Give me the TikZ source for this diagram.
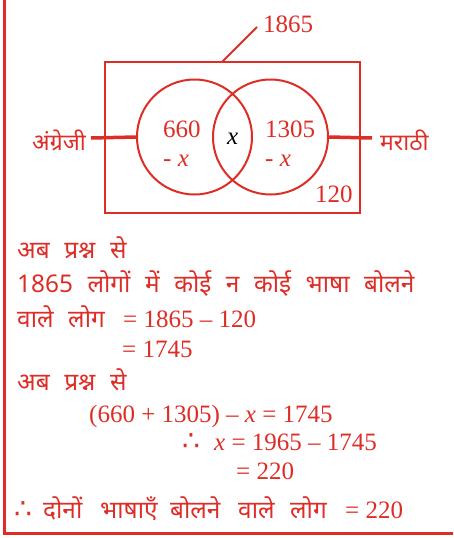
\documentclass[tikz,border=0pt]{standalone}
\usepackage{fontspec}
\setmainfont{Liberation Serif}
\newfontfamily\dev[Script=Devanagari, WordSpace=2.3]{Noto Sans}
\newfontfamily\sym{DejaVu Sans}
\definecolor{rd}{RGB}{222,44,38}
\begin{document}
\begin{tikzpicture}[x=1pt,y=-1pt,
  every node/.style={inner sep=0pt, text=rd},
  num/.style={font=\fontsize{25}{28}\selectfont, anchor=base west},
  devtxt/.style={font=\dev\fontsize{24.4}{28}\selectfont, anchor=base west},
  therefore/.style={font=\sym\fontsize{28}{30}\selectfont, anchor=base west},
  venn/.style={circle, draw=rd, line width=2pt, minimum size=115pt},
  conn/.style={draw=rd, line width=3.5pt},
  frame/.style={draw=rd, line width=3pt}]
\useasboundingbox (0,0) rectangle (453,538);
% frame
\coordinate (ft) at (4,0);
\coordinate (fb) at (4,533);
\coordinate (fr) at (453,533);
\draw[frame] (ft) -- (fb) -- (fr);
% box
\node[draw=rd, line width=2.3pt, minimum width=255pt, minimum height=151pt] (box) at (232.5,137.5) {};
\node[venn] (L) at (194.5,137) {};
\node[venn] (R) at (270.5,137) {};
% total label
\node[num] (tot) at (263,32) {1865};
\coordinate (tl) at (222,62);
\coordinate (tr) at (257,27);
\draw[draw=rd, line width=2pt] (tl) -- (tr);
% side labels
\node[font=\dev\fontsize{23}{26}\selectfont, anchor=base east] (eng) at (86,150) {अंग्रेजी};
\node[font=\dev\fontsize{23}{26}\selectfont, anchor=base west] (mar) at (380,150) {मराठी};
\coordinate (le) at (91,138);
\coordinate (re) at (372,138);
\draw[conn] (le) -- (L.west);
\draw[conn] (R.east) -- (re);
% region labels
\node[num] (a1) at (163,137) {660};
\node[num] (a2) at (163,166) {- \textit{x}};
\node[num, text=black] (mid) at (227,144) {\textit{x}};
\node[num] (b1) at (265,137) {1305};
\node[num] (b2) at (265,166) {- \textit{x}};
\node[num] (out) at (315,202) {120};
% text lines
\node[devtxt] (t1) at (17,258) {अब प्रश्न से};
\node[devtxt] (t2) at (17,292) {1865 लोगों में कोई न कोई भाषा बोलने};
\node[devtxt] (t3) at (17,327) {वाले लोग};
\node[num] (t3b) at (123,327) {= 1865 – 120};
\node[num] (t4) at (122,357) {= 1745};
\node[devtxt] (t5) at (17,390) {अब प्रश्न से};
\node[num] (t6) at (89,422) {(660 + 1305) – \textit{x} = 1745};
\node[therefore] (t7a) at (182,450) {∴};
\node[num] (t7) at (214,450) {\textit{x} = 1965 – 1745};
\node[num] (t8) at (236,479) {= 220};
\node[therefore] (t9a) at (14,518) {∴};
\node[devtxt] (w1) at (43,518) {दोनों};
\node[devtxt] (w2) at (100,518) {भाषाएँ};
\node[devtxt] (w3) at (170,518) {बोलने};
\node[devtxt] (w4) at (238,518) {वाले};
\node[devtxt] (w5) at (290,518) {लोग};
\node[num] (t9b) at (345,518) {= 220};
\end{tikzpicture}
\end{document}
